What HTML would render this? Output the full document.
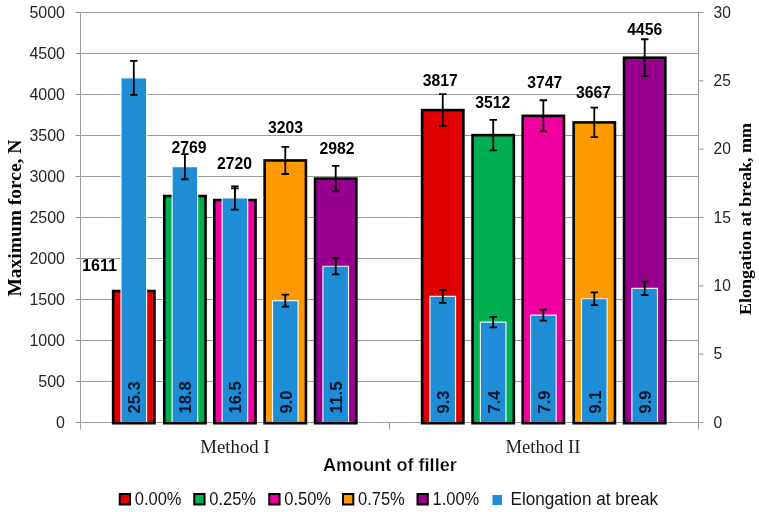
<!DOCTYPE html>
<html><head><meta charset="utf-8"><title>Chart</title>
<style>html,body{margin:0;padding:0;background:#fff}svg{display:block}</style></head>
<body>
<svg width="759" height="512" viewBox="0 0 759 512">
<defs><filter id="gs" x="0" y="0" width="100%" height="100%" filterUnits="userSpaceOnUse" color-interpolation-filters="sRGB"><feOffset dx="0" dy="0"/></filter></defs>
<rect width="759" height="512" fill="#fff"/>
<g stroke="#9C9C9C" stroke-width="1" fill="none">
<line x1="80.5" y1="381.50" x2="698.5" y2="381.50"/>
<line x1="80.5" y1="340.50" x2="698.5" y2="340.50"/>
<line x1="80.5" y1="299.50" x2="698.5" y2="299.50"/>
<line x1="80.5" y1="258.50" x2="698.5" y2="258.50"/>
<line x1="80.5" y1="217.50" x2="698.5" y2="217.50"/>
<line x1="80.5" y1="176.50" x2="698.5" y2="176.50"/>
<line x1="80.5" y1="135.50" x2="698.5" y2="135.50"/>
<line x1="80.5" y1="94.50" x2="698.5" y2="94.50"/>
<line x1="80.5" y1="53.50" x2="698.5" y2="53.50"/>
<line x1="80.5" y1="12.50" x2="698.5" y2="12.50"/>
</g>
<g stroke="#9A9A9A" stroke-width="1" fill="none">
<line x1="80.5" y1="12.5" x2="80.5" y2="422.5"/>
<line x1="698.5" y1="12.5" x2="698.5" y2="422.5"/>
<line x1="80.5" y1="422.5" x2="698.5" y2="422.5"/>
<line x1="75.5" y1="422.50" x2="80.5" y2="422.50"/>
<line x1="75.5" y1="381.50" x2="80.5" y2="381.50"/>
<line x1="75.5" y1="340.50" x2="80.5" y2="340.50"/>
<line x1="75.5" y1="299.50" x2="80.5" y2="299.50"/>
<line x1="75.5" y1="258.50" x2="80.5" y2="258.50"/>
<line x1="75.5" y1="217.50" x2="80.5" y2="217.50"/>
<line x1="75.5" y1="176.50" x2="80.5" y2="176.50"/>
<line x1="75.5" y1="135.50" x2="80.5" y2="135.50"/>
<line x1="75.5" y1="94.50" x2="80.5" y2="94.50"/>
<line x1="75.5" y1="53.50" x2="80.5" y2="53.50"/>
<line x1="75.5" y1="12.50" x2="80.5" y2="12.50"/>
<line x1="698.5" y1="422.50" x2="703.5" y2="422.50"/>
<line x1="698.5" y1="354.17" x2="703.5" y2="354.17"/>
<line x1="698.5" y1="285.83" x2="703.5" y2="285.83"/>
<line x1="698.5" y1="217.50" x2="703.5" y2="217.50"/>
<line x1="698.5" y1="149.17" x2="703.5" y2="149.17"/>
<line x1="698.5" y1="80.83" x2="703.5" y2="80.83"/>
<line x1="698.5" y1="12.50" x2="703.5" y2="12.50"/>
<line x1="80.50" y1="422.5" x2="80.50" y2="429.5"/>
<line x1="389.50" y1="422.5" x2="389.50" y2="429.5"/>
<line x1="698.50" y1="422.5" x2="698.50" y2="429.5"/>
</g>
<rect x="113.15" y="291.00" width="41.3" height="132.20" fill="#E00000" stroke="#000" stroke-width="2.6"/>
<rect x="164.25" y="196.04" width="41.3" height="227.16" fill="#00B050" stroke="#000" stroke-width="2.6"/>
<rect x="214.25" y="200.06" width="41.3" height="223.14" fill="#F000A0" stroke="#000" stroke-width="2.6"/>
<rect x="264.65" y="160.45" width="41.3" height="262.75" fill="#FF9900" stroke="#000" stroke-width="2.6"/>
<rect x="315.05" y="178.58" width="41.3" height="244.62" fill="#97008C" stroke="#000" stroke-width="2.6"/>
<rect x="422.10" y="110.11" width="41.3" height="313.09" fill="#E00000" stroke="#000" stroke-width="2.6"/>
<rect x="472.55" y="135.12" width="41.3" height="288.08" fill="#00B050" stroke="#000" stroke-width="2.6"/>
<rect x="522.70" y="115.85" width="41.3" height="307.35" fill="#F000A0" stroke="#000" stroke-width="2.6"/>
<rect x="573.65" y="122.41" width="41.3" height="300.79" fill="#FF9900" stroke="#000" stroke-width="2.6"/>
<rect x="624.05" y="57.71" width="41.3" height="365.49" fill="#97008C" stroke="#000" stroke-width="2.6"/>
<path d="M133.80 278.70V303.30M130.05 278.70h7.5M130.05 303.30h7.5" stroke="#000" stroke-width="1.8" fill="none"/>
<path d="M184.90 183.74V208.34M181.15 183.74h7.5M181.15 208.34h7.5" stroke="#000" stroke-width="1.8" fill="none"/>
<path d="M234.90 188.42V211.70M231.15 188.42h7.5M231.15 211.70h7.5" stroke="#000" stroke-width="1.8" fill="none"/>
<path d="M285.30 146.92V173.98M281.55 146.92h7.5M281.55 173.98h7.5" stroke="#000" stroke-width="1.8" fill="none"/>
<path d="M335.70 165.87V191.29M331.95 165.87h7.5M331.95 191.29h7.5" stroke="#000" stroke-width="1.8" fill="none"/>
<path d="M442.75 94.12V126.10M439.00 94.12h7.5M439.00 126.10h7.5" stroke="#000" stroke-width="1.8" fill="none"/>
<path d="M493.20 119.95V150.29M489.45 119.95h7.5M489.45 150.29h7.5" stroke="#000" stroke-width="1.8" fill="none"/>
<path d="M543.35 100.27V131.43M539.60 100.27h7.5M539.60 131.43h7.5" stroke="#000" stroke-width="1.8" fill="none"/>
<path d="M594.30 107.65V137.17M590.55 107.65h7.5M590.55 137.17h7.5" stroke="#000" stroke-width="1.8" fill="none"/>
<path d="M644.70 39.26V76.16M640.95 39.26h7.5M640.95 76.16h7.5" stroke="#000" stroke-width="1.8" fill="none"/>
<path d="M121.00 422V77.83h25.6V422z" fill="#1F8DD6"/><path d="M121.00 422V77.83h25.6V422" fill="none" stroke="#fff" stroke-opacity="0.9" stroke-width="1.2"/>
<path d="M172.10 422V166.67h25.6V422z" fill="#1F8DD6"/><path d="M172.10 422V166.67h25.6V422" fill="none" stroke="#fff" stroke-opacity="0.9" stroke-width="1.2"/>
<path d="M222.10 422V198.00h25.6V422z" fill="#1F8DD6"/><path d="M222.10 422V198.00h25.6V422" fill="none" stroke="#fff" stroke-opacity="0.9" stroke-width="1.2"/>
<path d="M272.50 422V300.60h25.6V422z" fill="#1F8DD6"/><path d="M272.50 422V300.60h25.6V422" fill="none" stroke="#fff" stroke-opacity="0.9" stroke-width="1.2"/>
<path d="M322.90 422V266.23h25.6V422z" fill="#1F8DD6"/><path d="M322.90 422V266.23h25.6V422" fill="none" stroke="#fff" stroke-opacity="0.9" stroke-width="1.2"/>
<path d="M429.95 422V296.40h25.6V422z" fill="#1F8DD6"/><path d="M429.95 422V296.40h25.6V422" fill="none" stroke="#fff" stroke-opacity="0.9" stroke-width="1.2"/>
<path d="M480.40 422V322.07h25.6V422z" fill="#1F8DD6"/><path d="M480.40 422V322.07h25.6V422" fill="none" stroke="#fff" stroke-opacity="0.9" stroke-width="1.2"/>
<path d="M530.55 422V315.13h25.6V422z" fill="#1F8DD6"/><path d="M530.55 422V315.13h25.6V422" fill="none" stroke="#fff" stroke-opacity="0.9" stroke-width="1.2"/>
<path d="M581.50 422V298.73h25.6V422z" fill="#1F8DD6"/><path d="M581.50 422V298.73h25.6V422" fill="none" stroke="#fff" stroke-opacity="0.9" stroke-width="1.2"/>
<path d="M631.90 422V288.40h25.6V422z" fill="#1F8DD6"/><path d="M631.90 422V288.40h25.6V422" fill="none" stroke="#fff" stroke-opacity="0.9" stroke-width="1.2"/>
<path d="M133.80 60.89V94.78M130.05 60.89h7.5M130.05 94.78h7.5" stroke="#000" stroke-width="1.8" fill="none"/>
<path d="M184.90 154.09V179.24M181.15 154.09h7.5M181.15 179.24h7.5" stroke="#000" stroke-width="1.8" fill="none"/>
<path d="M234.90 186.38V209.62M231.15 186.38h7.5M231.15 209.62h7.5" stroke="#000" stroke-width="1.8" fill="none"/>
<path d="M285.30 294.59V306.61M281.55 294.59h7.5M281.55 306.61h7.5" stroke="#000" stroke-width="1.8" fill="none"/>
<path d="M335.70 258.03V274.43M331.95 258.03h7.5M331.95 274.43h7.5" stroke="#000" stroke-width="1.8" fill="none"/>
<path d="M442.75 289.98V302.82M439.00 289.98h7.5M439.00 302.82h7.5" stroke="#000" stroke-width="1.8" fill="none"/>
<path d="M493.20 316.81V327.33M489.45 316.81h7.5M489.45 327.33h7.5" stroke="#000" stroke-width="1.8" fill="none"/>
<path d="M543.35 309.67V320.60M539.60 309.67h7.5M539.60 320.60h7.5" stroke="#000" stroke-width="1.8" fill="none"/>
<path d="M594.30 292.31V305.16M590.55 292.31h7.5M590.55 305.16h7.5" stroke="#000" stroke-width="1.8" fill="none"/>
<path d="M644.70 281.70V295.10M640.95 281.70h7.5M640.95 295.10h7.5" stroke="#000" stroke-width="1.8" fill="none"/>
<g filter="url(#gs)">
<g font-family="'Liberation Sans', sans-serif" font-size="16" fill="#262626">
<text x="65" y="427.70" text-anchor="end" textLength="8.9" lengthAdjust="spacingAndGlyphs">0</text>
<text x="65" y="386.70" text-anchor="end" textLength="26.7" lengthAdjust="spacingAndGlyphs">500</text>
<text x="65" y="345.70" text-anchor="end" textLength="35.6" lengthAdjust="spacingAndGlyphs">1000</text>
<text x="65" y="304.70" text-anchor="end" textLength="35.6" lengthAdjust="spacingAndGlyphs">1500</text>
<text x="65" y="263.70" text-anchor="end" textLength="35.6" lengthAdjust="spacingAndGlyphs">2000</text>
<text x="65" y="222.70" text-anchor="end" textLength="35.6" lengthAdjust="spacingAndGlyphs">2500</text>
<text x="65" y="181.70" text-anchor="end" textLength="35.6" lengthAdjust="spacingAndGlyphs">3000</text>
<text x="65" y="140.70" text-anchor="end" textLength="35.6" lengthAdjust="spacingAndGlyphs">3500</text>
<text x="65" y="99.70" text-anchor="end" textLength="35.6" lengthAdjust="spacingAndGlyphs">4000</text>
<text x="65" y="58.70" text-anchor="end" textLength="35.6" lengthAdjust="spacingAndGlyphs">4500</text>
<text x="65" y="17.70" text-anchor="end" textLength="35.6" lengthAdjust="spacingAndGlyphs">5000</text>
<text x="713.5" y="427.70" textLength="8.7" lengthAdjust="spacingAndGlyphs">0</text>
<text x="713.5" y="359.37" textLength="8.7" lengthAdjust="spacingAndGlyphs">5</text>
<text x="713.5" y="291.03" textLength="17.3" lengthAdjust="spacingAndGlyphs">10</text>
<text x="713.5" y="222.70" textLength="17.3" lengthAdjust="spacingAndGlyphs">15</text>
<text x="713.5" y="154.37" textLength="17.3" lengthAdjust="spacingAndGlyphs">20</text>
<text x="713.5" y="86.03" textLength="17.3" lengthAdjust="spacingAndGlyphs">25</text>
<text x="713.5" y="17.70" textLength="17.3" lengthAdjust="spacingAndGlyphs">30</text>
</g>
<g font-family="'Liberation Sans', sans-serif" font-size="16.5" font-weight="bold" fill="#000" text-anchor="middle">
<text x="99.5" y="270.5" textLength="35" lengthAdjust="spacingAndGlyphs">1611</text>
<text x="189" y="152.5" textLength="35" lengthAdjust="spacingAndGlyphs">2769</text>
<text x="234.4" y="168.8" textLength="35" lengthAdjust="spacingAndGlyphs">2720</text>
<text x="285.5" y="132.5" textLength="35" lengthAdjust="spacingAndGlyphs">3203</text>
<text x="337" y="153.8" textLength="35" lengthAdjust="spacingAndGlyphs">2982</text>
<text x="440.3" y="85.5" textLength="35" lengthAdjust="spacingAndGlyphs">3817</text>
<text x="492.8" y="108.2" textLength="35" lengthAdjust="spacingAndGlyphs">3512</text>
<text x="544.8" y="87.5" textLength="35" lengthAdjust="spacingAndGlyphs">3747</text>
<text x="593.4" y="97.9" textLength="35" lengthAdjust="spacingAndGlyphs">3667</text>
<text x="644.7" y="35.1" textLength="35" lengthAdjust="spacingAndGlyphs">4456</text>
</g>
<g font-family="'Liberation Sans', sans-serif" font-size="16.4" font-weight="bold" fill="#08152B">
<text transform="translate(140.10 413.5) rotate(-90)" textLength="32.1" lengthAdjust="spacingAndGlyphs">25.3</text>
<text transform="translate(191.20 413.5) rotate(-90)" textLength="32.1" lengthAdjust="spacingAndGlyphs">18.8</text>
<text transform="translate(241.20 413.5) rotate(-90)" textLength="32.1" lengthAdjust="spacingAndGlyphs">16.5</text>
<text transform="translate(291.60 413.5) rotate(-90)" textLength="22.9" lengthAdjust="spacingAndGlyphs">9.0</text>
<text transform="translate(342.00 413.5) rotate(-90)" textLength="32.1" lengthAdjust="spacingAndGlyphs">11.5</text>
<text transform="translate(449.05 413.5) rotate(-90)" textLength="22.9" lengthAdjust="spacingAndGlyphs">9.3</text>
<text transform="translate(499.50 413.5) rotate(-90)" textLength="22.9" lengthAdjust="spacingAndGlyphs">7.4</text>
<text transform="translate(549.65 413.5) rotate(-90)" textLength="22.9" lengthAdjust="spacingAndGlyphs">7.9</text>
<text transform="translate(600.60 413.5) rotate(-90)" textLength="22.9" lengthAdjust="spacingAndGlyphs">9.1</text>
<text transform="translate(651.00 413.5) rotate(-90)" textLength="22.9" lengthAdjust="spacingAndGlyphs">9.9</text>
</g>
<text transform="translate(21 296.6) rotate(-90)" font-family="'Liberation Serif', serif" font-weight="bold" font-size="19" fill="#000" textLength="157" lengthAdjust="spacingAndGlyphs">Maximum force, N</text>
<text transform="translate(751 315) rotate(-90)" font-family="'Liberation Serif', serif" font-weight="bold" font-size="17.4" fill="#000" textLength="192" lengthAdjust="spacingAndGlyphs">Elongation at break, mm</text>
<text x="200.2" y="452.5" font-family="'Liberation Serif', serif" font-size="18.6" fill="#1a1a1a" textLength="69.5" lengthAdjust="spacingAndGlyphs">Method I</text>
<text x="505.5" y="452.5" font-family="'Liberation Serif', serif" font-size="18.4" fill="#222" textLength="75" lengthAdjust="spacingAndGlyphs">Method II</text>
<text x="323" y="471.4" font-family="'Liberation Sans', sans-serif" font-weight="bold" font-size="18" fill="#000" stroke="#fff" stroke-width="0.25" textLength="133.8" lengthAdjust="spacingAndGlyphs">Amount of filler</text>
<g font-family="'Liberation Sans', sans-serif" font-size="18" fill="#151515">
<rect x="119.75" y="494" width="10.3" height="10.5" fill="#E00000" stroke="#000" stroke-width="2"/>
<text x="134.75" y="505" textLength="46.8" lengthAdjust="spacingAndGlyphs">0.00%</text>
<rect x="194.25" y="494" width="10.3" height="10.5" fill="#00B050" stroke="#000" stroke-width="2"/>
<text x="209.25" y="505" textLength="46.8" lengthAdjust="spacingAndGlyphs">0.25%</text>
<rect x="269.25" y="494" width="10.3" height="10.5" fill="#F000A0" stroke="#000" stroke-width="2"/>
<text x="284.25" y="505" textLength="46.8" lengthAdjust="spacingAndGlyphs">0.50%</text>
<rect x="343.0" y="494" width="10.3" height="10.5" fill="#FF9900" stroke="#000" stroke-width="2"/>
<text x="358.0" y="505" textLength="46.8" lengthAdjust="spacingAndGlyphs">0.75%</text>
<rect x="417.5" y="494" width="10.3" height="10.5" fill="#97008C" stroke="#000" stroke-width="2"/>
<text x="432.5" y="505" textLength="46.8" lengthAdjust="spacingAndGlyphs">1.00%</text>
<rect x="492.5" y="495" width="9.5" height="10" fill="#1F8DD6"/>
<text x="510.5" y="505" textLength="147.5" lengthAdjust="spacingAndGlyphs">Elongation at break</text>
</g>
</g>
</svg>
</body></html>
